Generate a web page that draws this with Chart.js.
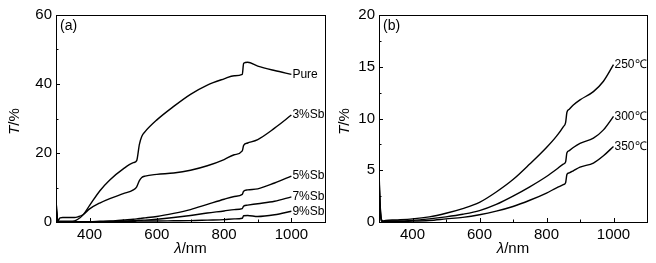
<!DOCTYPE html>
<html>
<head>
<meta charset="utf-8">
<script src="https://cdn.jsdelivr.net/npm/chart.js@4"></script>
<style>
  body { margin: 0; background: #fff; }
  .panel { position: absolute; top: 0; }
</style>
</head>
<body>
<div class="panel" style="left:0"><canvas id="chartA" width="330" height="263"></canvas></div>
<div class="panel" style="left:330px"><canvas id="chartB" width="326" height="263"></canvas></div>
<script>
// panel (a): Sb doped films
const wlA = [300, 303, 307, 312, 320, 340, 355, 365, 380, 400, 430, 460, 500, 530, 540, 548, 555, 565, 600, 650, 700, 750, 800, 830, 854, 858, 870, 900, 950, 1000];
const pure = [6.5, 2, 0.3, 0.2, 0.2, 0.2, 0.3, 0.8, 2.0, 4.8, 9, 12.2, 15.4, 17.2, 17.8, 22.5, 24.8, 26.2, 29.6, 33.5, 37, 39.7, 41.5, 42.4, 42.8, 46, 46.3, 45.2, 43.9, 42.8];
const sb3 = [6.5, 2, 0.5, 1.2, 1.3, 1.3, 1.3, 1.5, 2.1, 3.8, 5.5, 6.8, 8.2, 9.3, 10.2, 12, 12.9, 13.3, 13.8, 14.2, 15, 16.3, 18.1, 19.5, 20.6, 22.2, 22.9, 23.9, 27.2, 31];
const sb5 = [5, 1.5, 0.2, 0.1, 0.1, 0.1, 0.1, 0.1, 0.1, 0.1, 0.2, 0.3, 0.6, 0.8, 0.9, 1, 1.1, 1.2, 1.6, 2.5, 3.6, 5.1, 6.6, 7.4, 8, 8.9, 9.3, 9.6, 11.3, 13.3];
const sb7 = [4.5, 1.2, 0.1, 0.05, 0.05, 0.05, 0.05, 0.05, 0.05, 0.05, 0.1, 0.15, 0.3, 0.4, 0.45, 0.5, 0.5, 0.55, 0.8, 1.3, 1.9, 2.6, 3.2, 3.6, 3.9, 4.6, 4.9, 5.3, 6, 7.3];
const sb9 = [4, 1, 0.05, 0.02, 0.02, 0.02, 0.02, 0.02, 0.02, 0.02, 0.05, 0.1, 0.2, 0.22, 0.24, 0.25, 0.25, 0.27, 0.3, 0.35, 0.4, 0.55, 0.7, 0.9, 1.1, 1.8, 1.9, 1.6, 2.1, 3.1];
const namesA = ["Pure", "3%Sb", "5%Sb", "7%Sb", "9%Sb"];

// panel (b): annealing temperature
const wlB = [300, 303, 307, 312, 320, 350, 400, 450, 500, 550, 600, 650, 700, 750, 800, 830, 850, 857, 861, 868, 880, 900, 940, 970, 1000];
const t250 = [5, 2, 0.3, 0.1, 0.15, 0.2, 0.3, 0.5, 0.85, 1.3, 1.9, 2.9, 4.1, 5.6, 7.2, 8.3, 9.2, 9.6, 10.6, 10.9, 11.3, 11.8, 12.6, 13.6, 15.2];
const t300 = [4.5, 1.8, 0.2, 0.05, 0.1, 0.1, 0.15, 0.3, 0.5, 0.75, 1.1, 1.7, 2.5, 3.4, 4.4, 5.1, 5.6, 5.8, 6.7, 6.9, 7.2, 7.6, 8.1, 8.9, 10.2];
const t350 = [4, 1.5, 0.1, 0.05, 0.05, 0.05, 0.08, 0.15, 0.3, 0.45, 0.7, 1.05, 1.5, 2.1, 2.8, 3.3, 3.6, 3.8, 4.6, 4.75, 4.95, 5.3, 5.7, 6.4, 7.3];
const namesB = ["250℃", "300℃", "350℃"];

const xTicks = [400, 600, 800, 1000];
const xMinor = [500, 700, 900];
const yTicksA = [0, 20, 40, 60];
const yMinorA = [10, 30, 50];
const yTicksB = [0, 5, 10, 15, 20];
const yMinorB = [2.5, 7.5, 12.5, 17.5];

Chart.defaults.font.family = "'Liberation Sans', Arial, sans-serif";
Chart.defaults.color = "#000";

const pts = (xs, ys) => xs.map((x, i) => ({ x: x, y: ys[i] }));

// frame, inward ticks, axis titles, curve labels
const decor = {
    id: "decor",
    afterDraw(chart, args, o) {
        const c = chart.ctx, a = chart.chartArea;
        const sx = chart.scales.x, sy = chart.scales.y;
        c.save();
        c.strokeStyle = "#000";
        c.lineWidth = 1;
        c.strokeRect(a.left + 0.5, a.top + 0.5, a.right - a.left, a.bottom - a.top);
        c.beginPath();
        const tx = (vals, len) => vals.forEach(v => {
            const p = Math.round(sx.getPixelForValue(v)) + 0.5;
            c.moveTo(p, a.bottom); c.lineTo(p, a.bottom - len);
        });
        const ty = (vals, len) => vals.forEach(v => {
            const p = Math.round(sy.getPixelForValue(v)) + 0.5;
            c.moveTo(a.left, p); c.lineTo(a.left + len, p);
        });
        tx(xTicks, 4); tx(xMinor, 2.5);
        ty(o.yTicks, 4); ty(o.yMinor, 2.5);
        c.stroke();

        // panel letter
        c.fillStyle = "#000";
        c.font = "14px 'Liberation Sans', Arial, sans-serif";
        c.textBaseline = "middle";
        c.textAlign = "left";
        c.fillText(o.letter, a.left + 4, a.top + 11);

        // curve end labels
        c.font = "12px 'Liberation Sans', Arial, sans-serif";
        chart.data.datasets.forEach(ds => {
            const last = ds.data[ds.data.length - 1];
            c.fillText(ds.label, sx.getPixelForValue(last.x) + 1, sy.getPixelForValue(last.y));
        });

        // x title: italic lambda + /nm
        const f1 = "italic 15px 'Liberation Sans', Arial, sans-serif";
        const f2 = "15px 'Liberation Sans', Arial, sans-serif";
        c.font = f1; const w1 = c.measureText("λ").width;
        c.font = f2; const w2 = c.measureText("/nm").width;
        let x0 = (a.left + a.right) / 2 - (w1 + w2) / 2;
        c.font = f1; c.fillText("λ", x0, 249);
        c.font = f2; c.fillText("/nm", x0 + w1, 249);

        // y title: italic T + /%
        c.translate(o.yTitleX, (a.top + a.bottom) / 2 + 3);
        c.rotate(-Math.PI / 2);
        c.font = f1; const v1 = c.measureText("T").width;
        c.font = f2; const v2 = c.measureText("/%").width;
        x0 = -(v1 + v2) / 2;
        c.font = f1; c.fillText("T", x0, 0);
        c.font = f2; c.fillText("/%", x0 + v1, 0);
        c.restore();
    }
};

function makeChart(id, sets, yMax, yTicks, yMinor, yWidth, letter, yTitleX) {
    return new Chart(document.getElementById(id), {
        type: "line",
        data: { datasets: sets },
        options: {
            responsive: false,
            animation: false,
            layout: { padding: { top: 15, right: id === "chartA" ? 5 : 9, left: 0, bottom: 0 } },
            elements: {
                point: { radius: 0 },
                line: { borderColor: "#000", borderWidth: 1.4, cubicInterpolationMode: "monotone" }
            },
            plugins: {
                legend: { display: false },
                tooltip: { enabled: false },
                decor: { yTicks: yTicks, yMinor: yMinor, letter: letter, yTitleX: yTitleX }
            },
            scales: {
                x: {
                    type: "linear",
                    min: 300, max: 1100,
                    afterBuildTicks: s => { s.ticks = xTicks.map(v => ({ value: v })); },
                    afterFit: s => { s.height = 41; },
                    ticks: { padding: 4, font: { size: 15 }, callback: v => String(v) },
                    grid: { display: false, drawTicks: false },
                    border: { display: false }
                },
                y: {
                    min: 0, max: yMax,
                    afterBuildTicks: s => { s.ticks = yTicks.map(v => ({ value: v })); },
                    afterFit: s => { s.width = yWidth; },
                    ticks: { padding: 4, font: { size: 15 }, callback: v => String(v) },
                    grid: { display: false, drawTicks: false },
                    border: { display: false }
                }
            }
        },
        plugins: [decor]
    });
}

const seriesA = [pure, sb3, sb5, sb7, sb9];
makeChart("chartA",
    seriesA.map((s, i) => ({ label: namesA[i], data: pts(wlA, s) })),
    60, yTicksA, yMinorA, 56, "(a)", 15);

const seriesB = [t250, t300, t350];
makeChart("chartB",
    seriesB.map((s, i) => ({ label: namesB[i], data: pts(wlB, s) })),
    20, yTicksB, yMinorB, 49, "(b)", 15);
</script>
</body>
</html>
